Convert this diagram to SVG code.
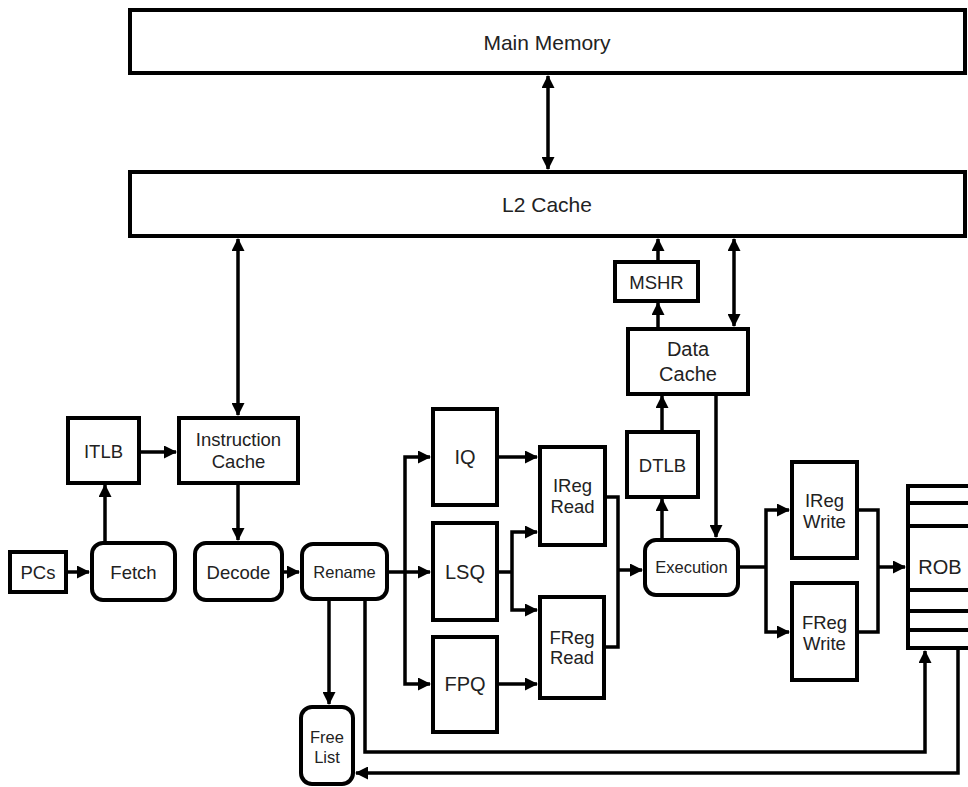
<svg xmlns="http://www.w3.org/2000/svg" width="968" height="787" viewBox="0 0 968 787">
  <style>
    .box { fill: #fff; stroke: #000; stroke-width: 4; }
    .lbl { font-family: "Liberation Sans", Arial, sans-serif; font-size: 18.5px; fill: #222; text-anchor: middle; dominant-baseline: central; }
    .big { font-size: 21px; }
    .sm { font-size: 16.5px; }
    .med { font-size: 20px; }
    .wire { fill: none; stroke: #000; stroke-width: 3.5; stroke-linejoin: miter; }
    .arr { marker-end: url(#head); }
    .both { marker-start: url(#head); marker-end: url(#head); }
  </style>
  <defs>
    <marker id="head" viewBox="0 0 13 13" refX="12" refY="6.5" markerWidth="13" markerHeight="13" markerUnits="userSpaceOnUse" orient="auto-start-reverse">
      <path d="M0,0 L13,6.5 L0,13 Z" fill="#000"/>
    </marker>
  </defs>
  <rect width="968" height="787" fill="#fff"/>

  <!-- connectors -->
  <g id="connectors">
    <line class="wire both" x1="548" y1="76" x2="548" y2="169"/>
    <line class="wire both" x1="238" y1="239" x2="238" y2="415"/>
    <line class="wire arr" x1="658" y1="260" x2="658" y2="239"/>
    <line class="wire both" x1="734" y1="239" x2="734" y2="326"/>
    <line class="wire arr" x1="658" y1="327" x2="658" y2="303"/>
    <line class="wire arr" x1="662" y1="430" x2="662" y2="396"/>
    <line class="wire arr" x1="662" y1="538" x2="662" y2="499"/>
    <line class="wire arr" x1="716" y1="396" x2="716" y2="537"/>

    <line class="wire arr" x1="68" y1="572" x2="89" y2="572"/>
    <line class="wire arr" x1="105" y1="541" x2="105" y2="485"/>
    <line class="wire arr" x1="141" y1="452" x2="176" y2="452"/>
    <line class="wire arr" x1="238" y1="485" x2="238" y2="540"/>
    <line class="wire arr" x1="284" y1="572" x2="299" y2="572"/>

    <line class="wire arr" x1="389" y1="572" x2="430" y2="572"/>
    <polyline class="wire arr" points="405,572 405,457 430,457"/>
    <polyline class="wire arr" points="405,572 405,684 430,684"/>

    <line class="wire arr" x1="329" y1="601" x2="329" y2="704"/>
    <polyline class="wire arr" points="365,601 365,752 925,752 925,651"/>
    <polyline class="wire arr" points="958,650 958,773 356,773"/>

    <line class="wire arr" x1="499" y1="457" x2="537" y2="457"/>
    <polyline class="wire" points="499,572 512,572"/>
    <polyline class="wire arr" points="512,572 512,532 537,532"/>
    <polyline class="wire arr" points="512,572 512,610 537,610"/>
    <line class="wire arr" x1="499" y1="684" x2="537" y2="684"/>

    <polyline class="wire" points="607,497 618,497 618,647 606,647"/>
    <line class="wire arr" x1="618" y1="570" x2="642" y2="570"/>

    <line class="wire" x1="740" y1="567" x2="766" y2="567"/>
    <polyline class="wire arr" points="766,567 766,510 789,510"/>
    <polyline class="wire arr" points="766,567 766,632 789,632"/>

    <polyline class="wire" points="859,510 878,510 878,632 859,632"/>
    <line class="wire arr" x1="878" y1="567" x2="905" y2="567"/>
  </g>

  <!-- memory hierarchy -->
  <g id="main-memory">
    <rect class="box" x="130" y="10" width="835" height="63"/>
    <text class="lbl big" x="547" y="42">Main Memory</text>
  </g>
  <g id="l2-cache">
    <rect class="box" x="130" y="172" width="835" height="64"/>
    <text class="lbl big" x="547" y="204">L2 Cache</text>
  </g>
  <g id="mshr">
    <rect class="box" x="615" y="262" width="83" height="39"/>
    <text class="lbl" x="656.5" y="282">MSHR</text>
  </g>
  <g id="data-cache">
    <rect class="box" x="628" y="329" width="120" height="65"/>
    <text class="lbl med" x="688" y="349">Data</text>
    <text class="lbl med" x="688" y="374">Cache</text>
  </g>
  <g id="dtlb">
    <rect class="box" x="627" y="432" width="71" height="65"/>
    <text class="lbl" x="662.5" y="465">DTLB</text>
  </g>

  <!-- front end -->
  <g id="itlb">
    <rect class="box" x="68" y="418" width="71" height="65"/>
    <text class="lbl" x="103.5" y="451">ITLB</text>
  </g>
  <g id="instruction-cache">
    <rect class="box" x="179" y="418" width="119" height="65"/>
    <text class="lbl" x="238.5" y="439">Instruction</text>
    <text class="lbl" x="238.5" y="461">Cache</text>
  </g>
  <g id="pcs">
    <rect class="box" x="10" y="552" width="56" height="40"/>
    <text class="lbl" x="38" y="572">PCs</text>
  </g>
  <g id="fetch">
    <rect class="box" x="92" y="543" width="83" height="57" rx="11"/>
    <text class="lbl" x="133.5" y="572">Fetch</text>
  </g>
  <g id="decode">
    <rect class="box" x="195" y="543" width="87" height="57" rx="11"/>
    <text class="lbl" x="238.5" y="572">Decode</text>
  </g>
  <g id="rename">
    <rect class="box" x="302" y="544" width="85" height="55" rx="11"/>
    <text class="lbl sm" x="344.5" y="572">Rename</text>
  </g>
  <g id="free-list">
    <rect class="box" x="301" y="707" width="52" height="77" rx="11"/>
    <text class="lbl sm" x="327" y="737">Free</text>
    <text class="lbl sm" x="327" y="757">List</text>
  </g>

  <!-- issue queues -->
  <g id="iq">
    <rect class="box" x="433" y="409" width="64" height="96"/>
    <text class="lbl med" x="465" y="457">IQ</text>
  </g>
  <g id="lsq">
    <rect class="box" x="433" y="523" width="64" height="97"/>
    <text class="lbl med" x="465" y="572">LSQ</text>
  </g>
  <g id="fpq">
    <rect class="box" x="433" y="637" width="64" height="95"/>
    <text class="lbl med" x="465" y="684">FPQ</text>
  </g>

  <!-- register read -->
  <g id="ireg-read">
    <rect class="box" x="540" y="447" width="65" height="98"/>
    <text class="lbl" x="572.5" y="485">IReg</text>
    <text class="lbl" x="572.5" y="506">Read</text>
  </g>
  <g id="freg-read">
    <rect class="box" x="540" y="597" width="64" height="101"/>
    <text class="lbl" x="572" y="637">FReg</text>
    <text class="lbl" x="572" y="657">Read</text>
  </g>

  <g id="execution">
    <rect class="box" x="645" y="540" width="93" height="55" rx="11"/>
    <text class="lbl sm" x="691.5" y="567">Execution</text>
  </g>

  <!-- register write -->
  <g id="ireg-write">
    <rect class="box" x="792" y="462" width="65" height="96"/>
    <text class="lbl" x="824.5" y="500">IReg</text>
    <text class="lbl" x="824.5" y="521">Write</text>
  </g>
  <g id="freg-write">
    <rect class="box" x="792" y="583" width="65" height="97"/>
    <text class="lbl" x="824.5" y="622">FReg</text>
    <text class="lbl" x="824.5" y="643">Write</text>
  </g>

  <!-- reorder buffer -->
  <g id="rob">
    <rect class="box" x="908" y="486" width="70" height="162"/>
    <path d="M908,503 H970 M908,526 H970 M908,590 H970 M908,611 H970 M908,630 H970" stroke="#000" stroke-width="4" fill="none"/>
    <text class="lbl med" x="940" y="567">ROB</text>
  </g>
</svg>
